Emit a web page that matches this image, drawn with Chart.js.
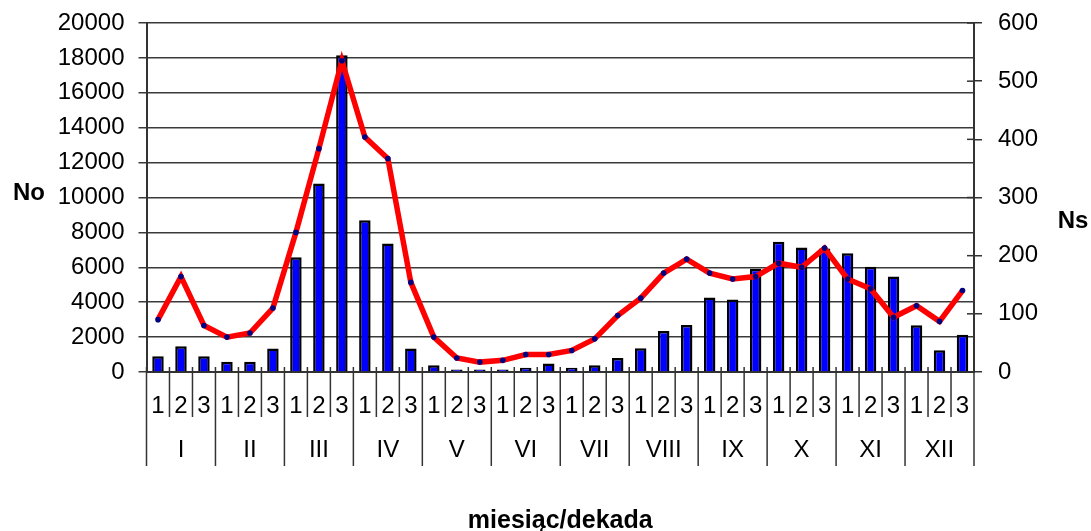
<!DOCTYPE html>
<html lang="pl">
<head>
    <meta charset="UTF-8">
    <title>No / Ns</title>
    <script src="https://cdn.jsdelivr.net/npm/chart.js"></script>
    <style>
        html, body { margin: 0; padding: 0; background: #ffffff; }
        #containerCanvas { width: 1091px; height: 531px; }
    </style>
</head>
<body>
    <div id="containerCanvas">
        <canvas id="myChart"></canvas>
    </div>

<script>

var miesiace = ["I", "II", "III", "IV", "V", "VI", "VII", "VIII", "IX", "X", "XI", "XII"];
var dekady = ["1", "2", "3"];

// No (słupki, oś lewa)
var wartosciNo = [900, 1470, 900, 590, 590, 1340, 6580, 10800, 18150, 8690, 7370, 1340,
                  380, 150, 150, 150, 250, 480, 250, 380, 800, 1360, 2350, 2700,
                  4270, 4150, 5910, 7460, 7140, 7080, 6810, 6030, 5470, 2680, 1240, 2140];

// Ns (linia, oś prawa)
var wartosciNs = [90, 164, 80, 60, 67, 110, 240, 384, 535, 404, 367, 154,
                  60, 24, 17, 20, 30, 30, 37, 57, 97, 127, 170, 194,
                  170, 160, 164, 187, 180, 213, 160, 143, 94, 114, 87, 140];

var ticksNo = [0, 2000, 4000, 6000, 8000, 10000, 12000, 14000, 16000, 18000, 20000];
var ticksNs = [0, 100, 200, 300, 400, 500, 600];

var fonte = "'Liberation Sans', Arial, sans-serif";

// etykiety kategorii: dekada w kazdym miesiacu
var labels = [];
for (var m = 0; m < miesiace.length; m++) {
    for (var d = 0; d < dekady.length; d++) {
        labels.push(dekady[d]);
    }
}

// rysuje dwa poziomy osi X (dekady + miesiace) i tytuly No / Ns
var osDwupoziomowa = {
    id: "osDwupoziomowa",
    afterDraw: function (chart) {
        var ctx = chart.ctx;
        var x = chart.scales.x;
        var y1 = chart.scales.y1;
        var dol = chart.chartArea.bottom;
        var prawo = chart.chartArea.right;
        var n = labels.length;

        ctx.save();
        ctx.strokeStyle = "#333333";
        ctx.lineWidth = 1.5;
        for (var i = 0; i <= n; i++) {
            var px;
            if (i == 0) px = chart.chartArea.left;
            else if (i == n) px = prawo;
            else px = (x.getPixelForValue(i - 1) + x.getPixelForValue(i)) / 2;
            var koniec = (i % 3 == 0) ? dol + 94 : dol + 45;
            ctx.beginPath();
            ctx.moveTo(px, dol - 5);
            ctx.lineTo(px, koniec);
            ctx.stroke();
        }

        // kreski osi prawej wchodza tez do srodka wykresu
        for (var t = 0; t < ticksNs.length; t++) {
            var py = y1.getPixelForValue(ticksNs[t]);
            ctx.beginPath();
            ctx.moveTo(prawo - 7, py);
            ctx.lineTo(prawo, py);
            ctx.stroke();
        }

        ctx.fillStyle = "#000000";
        ctx.font = "24px " + fonte;
        ctx.textAlign = "center";
        ctx.textBaseline = "middle";
        for (var j = 0; j < n; j++) {
            ctx.fillText(labels[j], x.getPixelForValue(j), dol + 34);
        }
        for (var k = 0; k < miesiace.length; k++) {
            var srodek = x.getPixelForValue(k * 3 + 1);
            ctx.fillText(miesiace[k], srodek, dol + 78);
        }

        ctx.font = "bold 24px " + fonte;
        ctx.fillText("No", 29, 193);
        ctx.fillText("Ns", 1073, 221);
        ctx.restore();
    }
};

// bez dodatkowego marginesu od etykiet osi Y
function ustawOsY(szerokosc) {
    return function (scale) {
        scale.width = szerokosc;
        scale.paddingTop = 0;
        scale.paddingBottom = 0;
    };
}

var dados = {
    labels: labels,
    datasets: [
        {
            type: "line",
            label: "Ns",
            data: wartosciNs,
            yAxisID: "y1",
            borderColor: "#FF0000",
            borderWidth: 5.5,
            pointRadius: 2.8,
            pointBackgroundColor: "#000080",
            pointBorderWidth: 0,
            tension: 0,
            order: 0
        },
        {
            type: "bar",
            label: "No",
            data: wartosciNo,
            yAxisID: "y",
            backgroundColor: "#0000FF",
            borderColor: "#000000",
            borderWidth: 2.5,
            barPercentage: 0.5,
            categoryPercentage: 1,
            order: 1
        }
    ]
};

var options = {
    responsive: true,
    maintainAspectRatio: false,
    animation: false,
    layout: { padding: { top: 23, left: 0, right: 0, bottom: 0 } },
    plugins: {
        legend: { display: false },
        tooltip: { enabled: false }
    },
    scales: {
        x: {
            offset: true,
            grid: { display: false, drawTicks: false },
            border: { display: true, color: "#333333", width: 2 },
            ticks: { display: false },
            title: {
                display: true,
                text: "miesiąc/dekada",
                color: "#000000",
                font: { family: fonte, size: 25, weight: "bold", lineHeight: 0.8 },
                padding: { top: 0, bottom: 0 }
            },
            afterFit: function (scale) { scale.height = 159; }
        },
        y: {
            position: "left",
            min: 0,
            max: 20000,
            afterBuildTicks: function (scale) {
                scale.ticks = ticksNo.map(function (v) { return { value: v }; });
            },
            grid: { color: "#3a3a3a", lineWidth: 1.5, tickLength: 8 },
            border: { color: "#333333", width: 2 },
            ticks: {
                color: "#000000",
                padding: 14,
                font: { family: fonte, size: 24 },
                callback: function (v) { return String(v); }
            },
            afterFit: ustawOsY(146.5)
        },
        y1: {
            position: "right",
            min: 0,
            max: 600,
            afterBuildTicks: function (scale) {
                scale.ticks = ticksNs.map(function (v) { return { value: v }; });
            },
            grid: { drawOnChartArea: false, color: "#333333", lineWidth: 1.5, tickLength: 8 },
            border: { color: "#333333", width: 2 },
            ticks: {
                color: "#000000",
                padding: 16,
                font: { family: fonte, size: 24 },
                callback: function (v) { return String(v); }
            },
            afterFit: ustawOsY(117)
        }
    }
};

var config = {
    type: "bar",
    data: dados,
    options: options,
    plugins: [osDwupoziomowa]
};

var myChart = new Chart(document.getElementById("myChart"), config);

</script>
</body>
</html>
